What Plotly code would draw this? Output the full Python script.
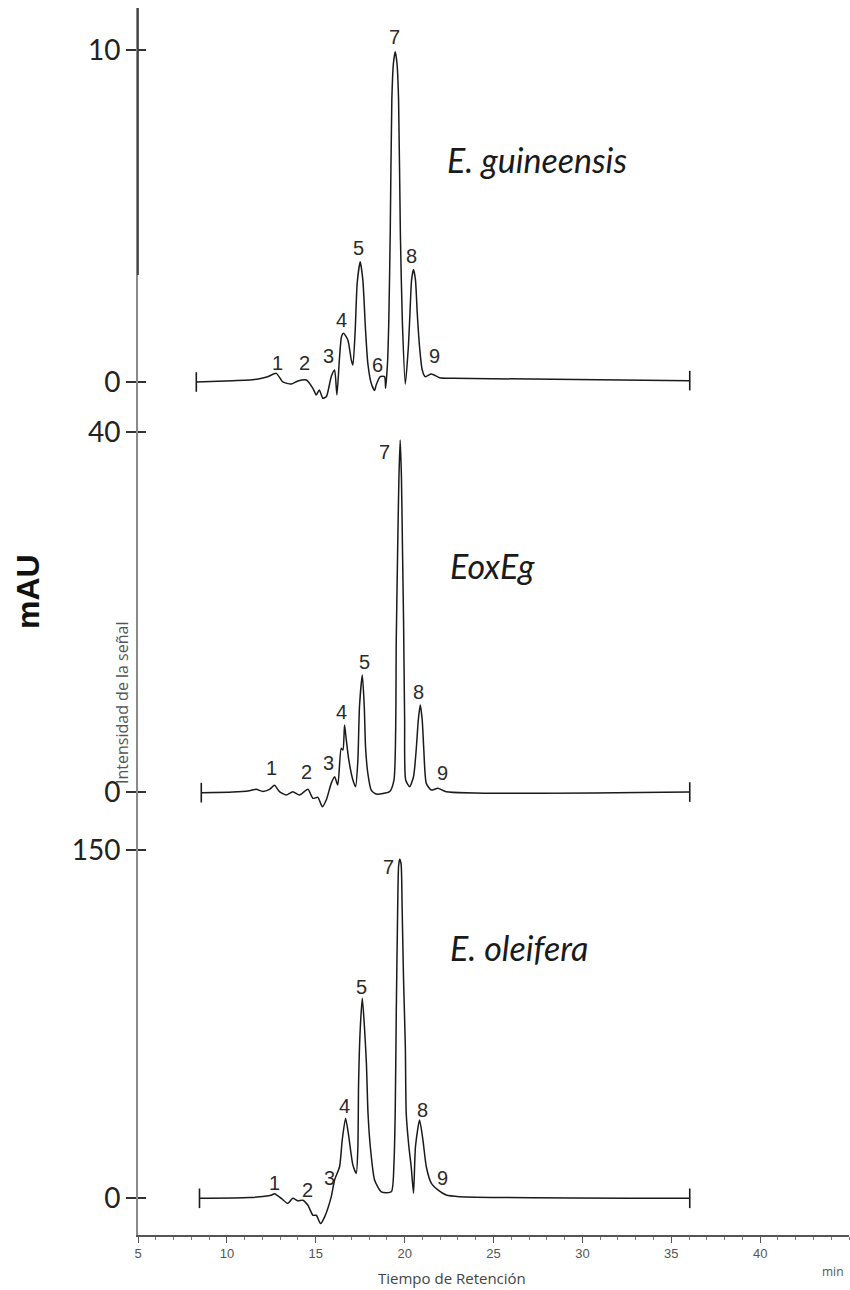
import plotly.graph_objects as go

# ---------------- data ----------------
# retention time (min) / signal (mAU)
t_guin = [8.28, 10.33, 11.27, 11.84, 12.3, 12.78, 13.15, 13.62, 13.99, 14.47, 14.84, 15.03, 15.2, 15.4,
          15.6, 15.87, 16.06, 16.19, 16.34, 16.45, 16.56, 16.81, 17.0, 17.09, 17.22, 17.33, 17.5, 17.65,
          17.8, 17.93, 18.12, 18.31, 18.4, 18.63, 18.87, 18.93, 19.04, 19.11, 19.19, 19.28, 19.37, 19.47,
          19.57, 19.66, 19.76, 19.87, 20.04, 20.21, 20.3, 20.39, 20.5, 20.61, 20.71, 20.84, 20.99, 21.16,
          21.5, 21.97, 22.72, 36.04]
v_guin = [0.0, 0.04, 0.06, 0.1, 0.16, 0.26, 0.0, -0.06, 0.03, 0.06, -0.19, -0.39, -0.24, -0.49,
          -0.44, 0.16, 0.36, -0.39, 0.76, 1.37, 1.47, 1.26, 0.66, 0.51, 1.57, 2.97, 3.62, 3.07,
          1.57, 0.56, -0.04, -0.26, -0.09, 0.16, 0.16, -0.19, 0.6, 1.87, 4.49, 8.49, 9.6, 9.95,
          9.6, 8.49, 4.49, 1.87, -0.06, 1.06, 2.07, 3.07, 3.39, 3.07, 2.07, 1.06, 0.36, 0.16,
          0.24, 0.13, 0.11, 0.04]

t_eoxeg = [8.56, 10.34, 11.27, 11.65, 12.02, 12.4, 12.68, 12.96, 13.34, 13.71, 14.09, 14.56, 14.84, 15.12,
           15.37, 15.59, 15.87, 16.06, 16.24, 16.43, 16.53, 16.62, 16.72, 16.86, 17.09, 17.24, 17.37, 17.46,
           17.62, 17.73, 17.8, 17.93, 18.12, 18.4, 19.15, 19.4, 19.53, 19.6, 19.68, 19.75, 19.82, 19.88,
           19.94, 20.0, 20.06, 20.28, 20.5, 20.65, 20.77, 20.88, 20.99, 21.08, 21.22, 21.5, 21.87, 22.34,
           36.04]
v_eoxeg = [-0.07, 0.0, 0.15, 0.3, 0.07, 0.3, 0.74, 0.04, -0.33, 0.04, -0.33, 0.3, -0.7, -0.59,
           -1.63, -0.89, 0.96, 1.7, 0.78, 4.85, 4.67, 7.44, 5.78, 3.56, 1.33, 0.59, 3.56, 9.48,
           13.0, 9.48, 5.03, 2.07, 0.22, -0.22, 0.04, 1.33, 17.0, 26.0, 35.0, 39.1, 35.0, 27.0,
           19.0, 8.0, 1.33, 0.59, 1.7, 4.67, 8.0, 9.67, 8.0, 4.67, 0.96, 0.22, 0.41, 0.04,
           0.0]

t_olei = [8.46, 11.27, 12.49, 12.68, 13.06, 13.43, 13.71, 13.99, 14.27, 14.56, 14.84, 15.03, 15.27, 15.5,
          15.87, 16.06, 16.34, 16.49, 16.68, 16.86, 17.09, 17.28, 17.37, 17.41, 17.5, 17.62, 17.75, 17.85,
          17.94, 18.07, 18.31, 18.69, 19.25, 19.4, 19.47, 19.53, 19.6, 19.66, 19.72, 19.8, 19.86, 19.94,
          20.04, 20.09, 20.24, 20.37, 20.5, 20.61, 20.84, 21.03, 21.22, 21.5, 21.87, 22.34, 23.09, 36.04]
v_olei = [0.0, 0.3, 1.3, 2.0, 0.0, -2.2, 0.0, -1.1, -0.8, -3.0, -7.3, -7.3, -10.9, -8.0,
          0.6, 7.9, 13.6, 25.1, 34.5, 26.5, 14.3, 10.8, 22.2, 49.5, 72.5, 86.1, 72.5, 58.1,
          36.6, 22.2, 7.9, 2.8, 2.8, 15.1, 36.6, 79.7, 120.0, 143.0, 146.0, 144.0, 125.0, 94.0,
          65.3, 36.6, 22.2, 13.6, 2.2, 22.2, 33.7, 25.1, 13.6, 6.5, 3.6, 1.4, 0.7, 0.0]

peak_names = ["1", "2", "3", "4", "5", "6", "7", "8", "9"]
lab_t_guin = [12.87, 14.37, 15.74, 16.43, 17.43, 18.49, 19.43, 20.37, 21.69]
lab_v_guin = [0.56, 0.56, 0.78, 1.88, 4.04, 0.51, 10.38, 3.8, 0.78]

peak_names_2 = ["1", "2", "3", "4", "5", "7", "8", "9"]
lab_t_eoxeg = [12.5, 14.47, 15.74, 16.44, 17.75, 18.87, 20.79, 22.15]
lab_v_eoxeg = [2.63, 2.26, 3.19, 8.92, 14.48, 37.81, 11.14, 2.08]
lab_t_olei = [12.68, 14.56, 15.78, 16.62, 17.56, 19.1, 21.03, 22.12]
lab_v_olei = [6.5, 3.6, 8.6, 39.8, 91.1, 142.7, 38.0, 8.6]

sample_names = ["E. guineensis", "EoxEg", "E. oleifera"]
x_ticks = [5, 10, 15, 20, 25, 30, 35, 40]

# ---------------- figure ----------------
fig = go.Figure()
panels = [
    (t_guin, v_guin, "y", peak_names, lab_t_guin, lab_v_guin),
    (t_eoxeg, v_eoxeg, "y2", peak_names_2, lab_t_eoxeg, lab_v_eoxeg),
    (t_olei, v_olei, "y3", peak_names_2, lab_t_olei, lab_v_olei),
]
annotations = []
for t, v, ya, names, lt, lv in panels:
    fig.add_trace(go.Scatter(x=t, y=v, xaxis="x", yaxis=ya, mode="lines",
                             line=dict(color="#1a1a1a", width=1.5, shape="spline", smoothing=0.6),
                             hoverinfo="skip", showlegend=False))
    fig.add_trace(go.Scatter(x=[t[0], t[-1]], y=[v[0], v[-1]], xaxis="x", yaxis=ya, mode="markers",
                             marker=dict(symbol="line-ns", size=14, line=dict(color="#1a1a1a", width=1.6)),
                             hoverinfo="skip", showlegend=False))
    for n, xx, yy in zip(names, lt, lv):
        annotations.append(dict(x=xx, y=yy, xref="x", yref=ya, text=n, showarrow=False,
                                font=dict(family="Liberation Sans, Arial", size=20, color="#2b2b2b"),
                                xanchor="center", yanchor="middle"))

# sample names
for name, xx, yy, ya in zip(sample_names, [27.43, 24.95, 26.41], [6.69, 25.2, 107.8], ["y", "y2", "y3"]):
    annotations.append(dict(x=xx, y=yy, xref="x", yref=ya, text="<i>%s</i>" % name, showarrow=False,
                            font=dict(family="Lato, Open Sans", size=34, color="#1a1a1a"),
                            xanchor="center", yanchor="middle"))

annotations += [
    dict(x=-0.1547, y=0.524, xref="paper", yref="paper", text="<b>mAU</b>", textangle=-90,
         xanchor="center", yanchor="middle",
         showarrow=False, font=dict(family="Liberation Sans, Arial", size=32, color="#111")),
    dict(x=-0.0225, y=0.4336, xref="paper", yref="paper", text="Intensidad de la señal", textangle=-90,
         xanchor="center", yanchor="middle",
         showarrow=False, font=dict(family="Open Sans", size=16, color="#555")),
    dict(x=0.4416, y=-0.035, xref="paper", yref="paper", text="Tiempo de Retención",
         xanchor="center", yanchor="middle",
         showarrow=False, font=dict(family="Open Sans", size=15, color="#444")),
    dict(x=0.977, y=-0.03, xref="paper", yref="paper", text="min",
         xanchor="center", yanchor="middle",
         showarrow=False, font=dict(family="Open Sans", size=12, color="#555")),
]

ycommon = dict(anchor="x", showline=True, linecolor="#8a8a8a", linewidth=1.6, ticks="outside",
               ticklen=10, tickwidth=1.6, tickcolor="#333", showgrid=False, zeroline=False,
               tickfont=dict(family="Lato, Open Sans", size=28, color="#222"))
yin = dict(showline=False, ticks="inside", ticklen=8, tickwidth=1.6, tickcolor="#333",
           showticklabels=False, showgrid=False, zeroline=False, side="left")

fig.update_layout(
    width=850, height=1290,
    margin=dict(l=138, r=1, t=8, b=55),
    paper_bgcolor="white", plot_bgcolor="white",
    xaxis=dict(domain=[0, 1], range=[5, 45], anchor="y3", showline=True, linecolor="#555", linewidth=1.5,
               ticks="outside", ticklen=6, tickcolor="#555", tickvals=x_ticks, showgrid=False, zeroline=False,
               tickfont=dict(family="Liberation Sans, Arial", size=13, color="#555"),
               minor=dict(dtick=1, ticks="outside", ticklen=3, tickcolor="#777")),
    yaxis=dict(domain=[0.6724, 1.0], range=[-0.843, 11.265], tickvals=[0, 10], **ycommon),
    yaxis2=dict(domain=[0.3382, 0.6724], range=[-3.11, 42.44], tickvals=[0, 40], **ycommon),
    yaxis3=dict(domain=[0.0, 0.3382], range=[-15.8, 162.9], tickvals=[0, 150], **ycommon),
    yaxis4=dict(overlaying="y", anchor="x", range=[-0.843, 11.265], tickvals=[0, 10], **yin),
    yaxis5=dict(overlaying="y2", anchor="x", range=[-3.11, 42.44], tickvals=[0, 40], **yin),
    yaxis6=dict(overlaying="y3", anchor="x", range=[-15.8, 162.9], tickvals=[0, 150], **yin),
    annotations=annotations,
    shapes=[dict(type="line", xref="paper", yref="paper", x0=0, x1=0, y0=0.7824, y1=1.0,
                 line=dict(color="#333", width=1.6))],
)
# dummy traces so overlay axes render
for ya in ["y4", "y5", "y6"]:
    fig.add_trace(go.Scatter(x=[None], y=[None], xaxis="x", yaxis=ya, showlegend=False, hoverinfo="skip"))

fig.write_html("out.html", config={"displayModeBar": False},
               post_script="document.body.style.margin='0';")
